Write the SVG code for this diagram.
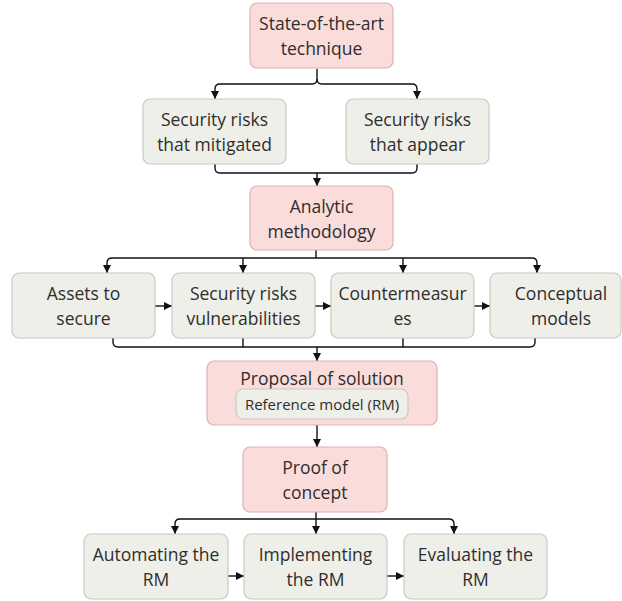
<svg xmlns="http://www.w3.org/2000/svg" width="622" height="601" viewBox="0 0 622 601">
<style>
.pink{fill:#fadcdb;stroke:#dcb2b0;stroke-width:1.2}
.grey{fill:#eeefe8;stroke:#c8c9c1;stroke-width:1.2}
.t{font-family:"Open Sans","Noto Sans",sans-serif;font-size:17.5px;fill:#2e2e2e;text-anchor:middle}
.ts{font-family:"Open Sans","Noto Sans",sans-serif;font-size:15px;fill:#2e2e2e;text-anchor:middle}
.c{fill:none;stroke:#111;stroke-width:1.4}
.a{fill:none;stroke:#111;stroke-width:1.4;marker-end:url(#ah)}
</style>
<defs>
<marker id="ah" markerUnits="userSpaceOnUse" markerWidth="9" markerHeight="9" refX="8" refY="4.5" orient="auto">
<path d="M0,0.5 L8,4.5 L0,8.5 z" fill="#111"/>
</marker>
</defs>
<rect width="622" height="601" fill="#fff"/>
<g id="connectors">
<path class="a" d="M317,69 V79 Q317,84 312,84 H220 Q215,84 215,89 V99"/>
<path class="a" d="M317,79 Q317,84 322,84 H412 Q417,84 417,89 V99"/>
<path class="c" d="M215,164 V168 Q215,173 220,173 H412 Q417,173 417,168 V164"/>
<path class="a" d="M317,173 V186"/>
<path class="c" d="M316,250 V258"/>
<path class="a" d="M316,258 H112 Q107,258 107,263 V273"/>
<path class="a" d="M316,258 H532 Q537,258 537,263 V273"/>
<path class="a" d="M243,258 V273"/>
<path class="a" d="M403,258 V273"/>
<path class="a" d="M155,306 H172"/>
<path class="a" d="M315,306 H331"/>
<path class="a" d="M474,306 H490"/>
<path class="c" d="M113,338 V342 Q113,347 118,347 H530 Q535,347 535,342 V338"/>
<path class="c" d="M243,338 V347"/>
<path class="c" d="M403,338 V347"/>
<path class="a" d="M317,347 V361"/>
<path class="a" d="M317,425 V447"/>
<path class="c" d="M316,512 V519"/>
<path class="a" d="M316,519 H180 Q175,519 175,524 V534"/>
<path class="a" d="M316,519 H449 Q454,519 454,524 V534"/>
<path class="a" d="M316,519 V534"/>
<path class="a" d="M228,576 H244"/>
<path class="a" d="M387,576 H404"/>
</g>
<g id="n-state">
<rect class="pink" x="250" y="3" width="143" height="65" rx="7"/>
<text class="t" x="321.5" y="30">State-of-the-art</text>
<text class="t" x="321.5" y="55">technique</text>
</g>
<g id="n-mitigated">
<rect class="grey" x="143" y="99" width="143" height="65" rx="7"/>
<text class="t" x="214.5" y="126">Security risks</text>
<text class="t" x="214.5" y="151">that mitigated</text>
</g>
<g id="n-appear">
<rect class="grey" x="346" y="99" width="143" height="65" rx="7"/>
<text class="t" x="417.5" y="126">Security risks</text>
<text class="t" x="417.5" y="151">that appear</text>
</g>
<g id="n-analytic">
<rect class="pink" x="250" y="186" width="143" height="64" rx="7"/>
<text class="t" x="321.5" y="212.5">Analytic</text>
<text class="t" x="321.5" y="237.5">methodology</text>
</g>
<g id="n-assets">
<rect class="grey" x="12" y="273" width="143" height="65" rx="7"/>
<text class="t" x="83.5" y="300">Assets to</text>
<text class="t" x="83.5" y="325">secure</text>
</g>
<g id="n-vuln">
<rect class="grey" x="172" y="273" width="143" height="65" rx="7"/>
<text class="t" x="243.5" y="300">Security risks</text>
<text class="t" x="243.5" y="325">vulnerabilities</text>
</g>
<g id="n-counter">
<rect class="grey" x="331" y="273" width="143" height="65" rx="7"/>
<text class="t" x="402.5" y="300">Countermeasur</text>
<text class="t" x="402.5" y="325">es</text>
</g>
<g id="n-conceptual">
<rect class="grey" x="490" y="273" width="131" height="65" rx="7"/>
<text class="t" x="561" y="300">Conceptual</text>
<text class="t" x="561" y="325">models</text>
</g>
<g id="n-proposal">
<rect class="pink" x="207" y="361" width="230" height="64" rx="7"/>
<text class="t" x="322" y="385">Proposal of solution</text>
<g id="n-rm">
<rect class="grey" x="236" y="389" width="172" height="30" rx="7"/>
<text class="ts" x="322" y="410">Reference model (RM)</text>
</g>
</g>
<g id="n-proof">
<rect class="pink" x="243" y="447" width="144" height="65" rx="7"/>
<text class="t" x="315" y="474">Proof of</text>
<text class="t" x="315" y="499">concept</text>
</g>
<g id="n-automating">
<rect class="grey" x="84" y="534" width="144" height="65" rx="7"/>
<text class="t" x="156" y="561">Automating the</text>
<text class="t" x="156" y="586">RM</text>
</g>
<g id="n-implementing">
<rect class="grey" x="244" y="534" width="143" height="65" rx="7"/>
<text class="t" x="315.5" y="561">Implementing</text>
<text class="t" x="315.5" y="586">the RM</text>
</g>
<g id="n-evaluating">
<rect class="grey" x="404" y="534" width="143" height="65" rx="7"/>
<text class="t" x="475.5" y="561">Evaluating the</text>
<text class="t" x="475.5" y="586">RM</text>
</g>
</svg>
